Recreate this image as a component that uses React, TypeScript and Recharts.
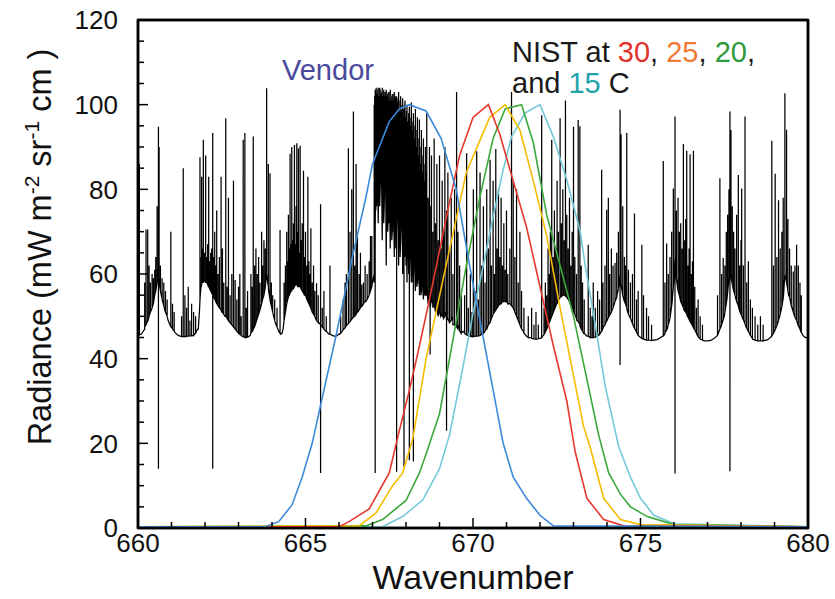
import { LineChart, Line, XAxis, YAxis, ReferenceArea } from "recharts";

const FONT = "'Liberation Sans', Arial, Helvetica, sans-serif";

type Pair = [number, number];
// [wavenumber, base, top, optional deep low]
type Spike = [number, number, number, number?];

const xTicks = [660, 661, 662, 663, 664, 665, 666, 667, 668, 669, 670, 671, 672, 673, 674, 675, 676, 677, 678, 679, 680];
const yTicks = [0, 5, 10, 15, 20, 25, 30, 35, 40, 45, 50, 55, 60, 65, 70, 75, 80, 85, 90, 95, 100, 105, 110, 115, 120];

// filter transmission curves (peak normalised to 100)
const vendorCurve: Pair[] = [
  [660, 0.3], [663.8, 0.3], [664.2, 1.5], [664.6, 5.5], [664.9, 12], [665.2, 20], [665.45, 29], [665.9, 45],
  [666.4, 64], [666.8, 78], [667.0, 86], [667.5, 96], [667.8, 99], [668.1, 100], [668.6, 98.5], [669.05, 92],
  [669.5, 80], [669.9, 62], [670.4, 41], [670.9, 20], [671.2, 12], [671.6, 7], [672.0, 3], [672.4, 0.5], [680, 0.3],
];
const nist30: Pair[] = [
  [660, 0.3], [666.0, 0.3], [666.3, 1.5], [666.9, 4.5], [667.5, 13], [667.8, 23], [668.1, 32.5], [668.4, 43],
  [668.7, 54], [669.3, 77], [669.6, 88], [670.0, 97], [670.46, 100], [670.8, 93], [671.2, 82], [671.6, 71],
  [672.0, 57], [672.4, 43], [672.8, 30], [673.05, 18], [673.4, 7], [673.9, 2], [674.5, 0.5], [680, 0.3],
];
const nist25: Pair[] = [
  [660, 0.3], [666.6, 0.5], [667.1, 3.5], [667.6, 10], [667.9, 13], [668.2, 21], [668.6, 40], [669.1, 58.5],
  [669.8, 84], [670.5, 97], [670.96, 100], [671.4, 94], [671.8, 82], [672.2, 69], [672.6, 52], [673.0, 36],
  [673.3, 24], [673.5, 19], [673.9, 7], [674.4, 2], [675.0, 0.8], [680, 0.3],
];
const nist20: Pair[] = [
  [660, 0.3], [666.8, 0.5], [667.3, 2], [668.0, 6.5], [668.4, 13], [668.6, 17.5], [669.0, 27], [669.3, 40],
  [669.8, 62], [670.2, 78], [670.6, 92], [670.96, 99], [671.45, 100], [671.8, 91], [672.2, 74], [672.6, 62],
  [673.0, 50], [673.35, 37], [673.75, 22], [674.05, 13], [674.4, 8], [674.7, 5], [675.2, 2.7], [676.0, 0.8], [680, 0.3],
];
const nist15: Pair[] = [
  [660, 0.3], [667.3, 0.3], [667.9, 2.7], [668.5, 6.6], [669.0, 14], [669.3, 22], [669.5, 30], [669.7, 38],
  [670.0, 50.7], [670.3, 61.7], [670.6, 73.5], [670.9, 84.6], [671.15, 92.4], [671.55, 98], [672.0, 100],
  [672.4, 92.4], [672.8, 82.2], [673.2, 70], [673.35, 62], [673.65, 48], [673.95, 33.4], [674.35, 19.2],
  [674.7, 12], [675.0, 7], [675.4, 3], [676.0, 1], [680, 0.3],
];

// measured spectrum: continuum per band, then the lines on it
const base660: Pair[] = [
  [660.0, 45.5], [660.1, 45.8], [660.2, 47], [660.3, 49], [660.4, 51.5], [660.48, 54], [660.55, 57], [660.6, 61],
  [660.65, 57], [660.72, 54], [660.8, 51.5], [660.9, 49], [661.0, 47.5], [661.1, 46.2], [661.2, 45.5],
  [661.35, 45.2], [661.5, 45.3], [661.65, 45.5], [661.78, 47],
];
const lines660: Spike[] = [
  [660.04, 45.6, 86], [660.2, 47.5, 58], [660.24, 48, 70.5], [660.29, 49, 70.5], [660.33, 50, 62], [660.37, 51, 58],
  [660.42, 52, 60], [660.46, 53, 59], [660.5, 55, 61], [660.53, 56, 64], [660.57, 58, 76], [660.61, 60, 94.8, 14],
  [660.63, 59, 90], [660.67, 56, 62], [660.72, 54, 59], [660.77, 52.5, 58], [660.82, 51, 56], [660.87, 50, 54],
  [660.98, 47.5, 70], [661.03, 47, 53], [661.08, 46.5, 51], [661.3, 45.2, 50], [661.35, 45.2, 85], [661.4, 45.2, 55],
  [661.45, 45.3, 52], [661.5, 45.3, 57], [661.55, 45.4, 49], [661.6, 45.4, 53], [661.66, 45.5, 51], [661.72, 46, 50],
];

const base662: Pair[] = [
  [661.8, 47], [661.84, 52], [661.88, 57], [661.92, 59], [662.0, 58.5], [662.1, 57], [662.2, 55.5], [662.3, 54],
  [662.4, 52.5], [662.5, 51], [662.6, 50], [662.7, 49], [662.8, 48], [662.9, 47], [663.0, 46], [663.1, 45.3],
  [663.2, 45], [663.3, 45.2],
];
const lines662: Spike[] = [
  [661.85, 54, 87.6], [661.89, 57, 64], [661.9, 57.5, 83], [661.93, 58, 66], [661.95, 58, 91.7], [661.98, 58.5, 65],
  [662.02, 58, 88], [662.05, 58, 64], [662.08, 57.5, 67], [662.11, 57, 83], [662.14, 56.5, 63], [662.17, 56, 65],
  [662.2, 55.5, 66], [662.23, 55, 93.3, 14], [662.26, 54.5, 64], [662.29, 54, 70], [662.32, 53.5, 62],
  [662.35, 53, 75], [662.39, 52.5, 60], [662.43, 52, 64], [662.48, 51.5, 83], [662.52, 51, 66], [662.56, 50.5, 58],
  [662.62, 50, 96.8], [662.66, 49.5, 57], [662.7, 49, 78], [662.75, 48.5, 55], [662.8, 48, 60], [662.85, 47.5, 82],
  [662.9, 47, 58.6], [662.95, 46.5, 54], [663.0, 46, 57], [663.04, 45.8, 60], [663.08, 45.5, 50],
  [663.14, 45.2, 91.7], [663.19, 45, 93.3], [663.23, 45, 52], [663.27, 45.1, 56],
];

const base663: Pair[] = [
  [663.35, 45.5], [663.42, 46.5], [663.5, 48], [663.58, 50], [663.66, 52], [663.74, 54.5], [663.8, 57], [663.84, 60],
  [663.9, 56], [663.96, 53], [664.05, 50], [664.12, 48], [664.2, 46.5], [664.26, 45.8], [664.3, 46],
];
const lines663: Spike[] = [
  [663.37, 46, 60], [663.41, 46.5, 57], [663.44, 47, 92.5], [663.48, 47.5, 62], [663.52, 48.5, 66], [663.56, 49.5, 60],
  [663.6, 50.5, 64], [663.64, 51.5, 58], [663.69, 53, 70], [663.72, 54, 62], [663.76, 55, 68], [663.8, 57, 66],
  [663.84, 60, 103.9], [663.89, 57, 86], [663.94, 54, 83.8], [663.98, 52.5, 58], [664.02, 51, 55], [664.08, 49, 54],
  [664.15, 47.5, 52], [664.24, 46, 70.4],
];

const base665: Pair[] = [
  [664.33, 47], [664.38, 50], [664.44, 53], [664.5, 55], [664.6, 57], [664.7, 57.5], [664.8, 57], [664.9, 56],
  [665.0, 55], [665.1, 53], [665.2, 51], [665.3, 49.5], [665.4, 48.5], [665.5, 47.5], [665.6, 46.5], [665.7, 45.8],
  [665.8, 45.5], [665.88, 45.3], [665.95, 45.5],
];
const lines665: Spike[] = [
  [664.36, 49, 58], [664.4, 51, 62], [664.44, 53, 70], [664.47, 54, 63], [664.49, 54.5, 74], [664.52, 55, 66],
  [664.54, 55.5, 88.4], [664.57, 56, 67], [664.59, 56, 90], [664.62, 56.5, 68], [664.64, 56.5, 72],
  [664.67, 57, 90.5], [664.7, 57.5, 67], [664.72, 57.5, 76], [664.74, 57.5, 90.9], [664.77, 57, 70],
  [664.79, 57, 89.7], [664.82, 57, 65], [664.84, 57, 90.3], [664.87, 56.5, 68], [664.9, 56, 72],
  [664.94, 55.5, 84.4], [664.97, 55, 64], [665.0, 55, 70], [665.04, 54, 62], [665.07, 53.5, 83], [665.1, 53, 63],
  [665.13, 52.5, 60], [665.16, 52, 70.8], [665.2, 51, 58], [665.24, 50.5, 62], [665.28, 50, 56],
  [665.33, 49, 57.8], [665.38, 48.5, 55], [665.45, 48, 76.5, 13], [665.5, 47.5, 52], [665.55, 47, 56],
  [665.62, 46.5, 50], [665.73, 45.8, 62],
];

const base666: Pair[] = [
  [666.0, 45.8], [666.1, 46.5], [666.2, 47.5], [666.3, 48.5], [666.4, 49.5], [666.5, 50.5], [666.6, 51.5],
  [666.7, 52.5], [666.8, 53.5], [666.9, 55], [667.0, 58],
];
const lines666: Spike[] = [
  [666.05, 46, 50], [666.12, 46.8, 54], [666.18, 47.3, 58], [666.22, 47.8, 60], [666.28, 48.3, 89.7],
  [666.33, 48.8, 70], [666.38, 49.3, 80], [666.43, 49.8, 98.4], [666.47, 50, 62], [666.51, 50.5, 86],
  [666.55, 51, 69], [666.6, 51.5, 60], [666.64, 52, 65], [666.68, 52.5, 57.5], [666.73, 53, 58], [666.78, 53.5, 62],
  [666.84, 54, 60], [666.9, 55, 63], [666.94, 56, 69], [666.98, 57, 69],
];

const base668: Pair[] = [
  [667.05, 60], [667.1, 75], [667.2, 80], [667.3, 78], [667.4, 75], [667.5, 72], [667.6, 70], [667.7, 68],
  [667.8, 66], [667.9, 64], [668.0, 62], [668.2, 60], [668.4, 57], [668.6, 55], [668.8, 53], [669.0, 52],
  [669.2, 51], [669.4, 50], [669.6, 48], [669.7, 46.5],
];
const lines668: Spike[] = [
  [667.05, 58, 100], [667.08, 70, 103.5, 13], [667.11, 80, 104], [667.14, 85, 102], [667.17, 72, 104],
  [667.2, 88, 101], [667.23, 80, 103.5], [667.26, 86, 102.5], [667.29, 68, 104], [667.32, 84, 101.5],
  [667.35, 76, 103], [667.38, 88, 102], [667.41, 62, 103.5], [667.44, 84, 101], [667.47, 74, 103],
  [667.5, 86, 100], [667.53, 66, 103.5], [667.56, 82, 101], [667.59, 70, 102.5], [667.62, 84, 100],
  [667.65, 64, 103], [667.68, 80, 101.5], [667.72, 70, 102, 13.3], [667.75, 82, 100], [667.78, 62, 103],
  [667.81, 78, 99], [667.84, 68, 102], [667.87, 80, 98], [667.9, 60, 101.5], [667.94, 76, 99, 14.5],
  [667.97, 66, 101], [668.0, 74, 97], [668.03, 58, 100], [668.06, 72, 96], [668.1, 62, 99.5, 16],
  [668.13, 70, 95], [668.16, 58, 100.5], [668.19, 68, 94], [668.22, 60, 98, 15.7], [668.25, 66, 92],
  [668.28, 56, 99], [668.31, 64, 90], [668.34, 58, 97], [668.37, 63, 88], [668.4, 55, 96.5], [668.43, 62, 86],
  [668.46, 56, 94], [668.49, 60, 84], [668.52, 54, 92], [668.55, 59, 80], [668.58, 55, 90], [668.62, 57, 98],
  [668.66, 53, 78], [668.7, 55, 90], [668.72, 52, 76, 41], [668.76, 54, 88], [668.8, 52, 70], [668.84, 53, 92],
  [668.88, 51, 72], [668.92, 52, 86], [668.96, 50, 68], [669.0, 51, 88], [669.04, 50, 66], [669.08, 50.5, 82],
  [669.12, 49.5, 70], [669.16, 50, 90], [669.21, 49, 75, 23], [669.25, 49.5, 84], [669.3, 48.5, 66],
  [669.35, 49, 78], [669.4, 48, 60], [669.45, 48, 80], [669.51, 47.5, 103], [669.55, 47, 70], [669.6, 46.5, 62],
  [669.65, 46, 55],
];
// the unresolved core of the band, between the lines above
const core668: Spike[] = [
  [667.065, 78, 102], [667.095, 84, 103], [667.125, 76, 102.5], [667.155, 88, 103.5], [667.185, 82, 102],
  [667.215, 76, 104], [667.245, 90, 101.5], [667.275, 80, 103], [667.305, 86, 102], [667.335, 72, 103.5],
  [667.365, 85, 101], [667.395, 78, 103], [667.425, 86, 102], [667.455, 70, 102.5], [667.485, 84, 101],
  [667.515, 76, 103], [667.545, 85, 100.5], [667.575, 68, 102], [667.605, 80, 101], [667.635, 74, 102.5],
  [667.665, 84, 100], [667.695, 66, 102], [667.735, 78, 100.5], [667.765, 72, 101.5], [667.795, 80, 99],
  [667.825, 64, 101], [667.855, 76, 98.5], [667.885, 70, 100], [667.925, 78, 97], [667.955, 64, 100],
  [667.985, 72, 96], [668.015, 66, 98.5], [668.045, 74, 95], [668.08, 60, 98], [668.115, 70, 94],
  [668.145, 62, 97], [668.175, 68, 93], [668.205, 58, 96], [668.235, 66, 91], [668.265, 60, 95],
  [668.295, 64, 89], [668.325, 57, 94], [668.355, 62, 87], [668.385, 58, 92], [668.415, 60, 85],
  [668.445, 55, 90], [668.475, 60, 83], [668.505, 56, 88], [668.535, 58, 82], [668.565, 55, 86], [668.6, 57, 84],
];

const base670: Pair[] = [
  [669.8, 45.6], [669.9, 45.3], [670.0, 45.2], [670.1, 45.3], [670.2, 45.5], [670.3, 46], [670.4, 47],
  [670.5, 48.5], [670.6, 50.5], [670.7, 52], [670.8, 53], [670.9, 53.5], [671.0, 53.5], [671.1, 53], [671.2, 52],
  [671.3, 50], [671.4, 48], [671.5, 46.5], [671.6, 45.3],
];
const lines670: Spike[] = [
  [669.75, 46, 55], [669.81, 45.6, 88.5], [669.86, 45.4, 52], [669.92, 45.3, 60], [669.97, 45.2, 51],
  [670.01, 45.2, 80], [670.06, 45.3, 56], [670.11, 45.3, 89], [670.16, 45.4, 54], [670.21, 45.5, 84],
  [670.26, 45.8, 62], [670.31, 46, 76], [670.36, 46.5, 58], [670.41, 47, 80], [670.46, 48, 66], [670.51, 48.5, 87],
  [670.55, 49.5, 62], [670.6, 50.5, 82], [670.64, 51, 60], [670.68, 51.5, 89.5], [670.72, 52, 66],
  [670.76, 52.5, 80], [670.8, 53, 64], [670.84, 53, 78], [670.88, 53.5, 62], [670.92, 53.5, 72],
  [670.96, 53.5, 61], [671.0, 53.5, 75], [671.04, 53, 60], [671.1, 53, 66], [671.15, 52.5, 103], [671.2, 52, 82],
  [671.25, 51, 64], [671.3, 50, 80], [671.35, 49, 58], [671.4, 48, 70], [671.45, 47, 56], [671.52, 46, 52],
];

const base672: Pair[] = [
  [671.7, 45], [671.8, 44.7], [671.9, 44.6], [672.0, 44.8], [672.1, 45.5], [672.2, 47], [672.3, 49], [672.4, 51],
  [672.5, 53], [672.6, 54.5], [672.7, 55], [672.8, 54.5], [672.9, 53], [673.0, 51], [673.1, 49], [673.2, 47.5],
  [673.3, 46], [673.4, 45.3],
];
const lines672: Spike[] = [
  [671.65, 45, 50], [671.75, 44.8, 52], [671.82, 44.7, 48], [671.88, 44.6, 51], [671.95, 44.7, 48],
  [672.05, 45, 97.5], [672.12, 45.7, 52], [672.16, 46.3, 58], [672.2, 47, 55], [672.24, 47.8, 66],
  [672.28, 48.6, 60], [672.31, 49.2, 70], [672.35, 50, 91.7], [672.39, 50.8, 64], [672.43, 51.6, 75],
  [672.47, 52.4, 66], [672.51, 53, 82], [672.55, 53.8, 70], [672.6, 54.5, 96.8], [672.64, 54.7, 72],
  [672.68, 55, 80], [672.72, 55, 68], [672.76, 54.8, 101], [672.8, 54.5, 74], [672.84, 54, 66], [672.88, 53.5, 78],
  [672.92, 53, 62], [672.96, 52.2, 70], [673.0, 51, 94.8], [673.04, 50.5, 64], [673.09, 49.5, 60],
  [673.14, 48.8, 96.4], [673.19, 48, 94.9], [673.23, 47, 62], [673.27, 46.5, 58], [673.32, 46, 54],
];

const base674: Pair[] = [
  [673.5, 45], [673.6, 45], [673.7, 45.3], [673.8, 46], [673.9, 47.5], [674.0, 49], [674.1, 50.5], [674.2, 52.5],
  [674.3, 55], [674.36, 58], [674.39, 60], [674.43, 57], [674.5, 54], [674.6, 51.5], [674.7, 49.5], [674.8, 47.5],
  [674.9, 46], [675.0, 45], [675.15, 44.5], [675.3, 44.3], [675.5, 44.5], [675.6, 45],
];
const lines674: Spike[] = [
  [673.44, 45.3, 66.9], [673.5, 45, 52], [673.55, 45, 50], [673.59, 45, 58], [673.65, 45.1, 52], [673.72, 45.4, 56],
  [673.78, 45.8, 54], [673.84, 46.5, 84.6], [673.88, 47.2, 58], [673.94, 48, 62], [673.99, 49, 75.2],
  [674.04, 49.7, 78], [674.08, 50.3, 60], [674.13, 51, 66], [674.18, 52, 62], [674.24, 53.5, 62.6],
  [674.29, 54.5, 65], [674.34, 56.5, 70], [674.39, 60, 98.8, 38.5], [674.42, 58, 93], [674.47, 55, 76],
  [674.52, 53.5, 64], [674.55, 53, 62], [674.59, 52, 93.3], [674.64, 50.5, 61], [674.7, 49.5, 58],
  [674.76, 48.3, 60], [674.82, 47.2, 74.3], [674.88, 46.3, 54], [674.93, 45.5, 56], [675.04, 44.8, 66.9],
  [675.09, 44.6, 55], [675.18, 44.4, 52], [675.24, 44.4, 50], [675.33, 44.3, 48],
];

const base676: Pair[] = [
  [675.7, 45.5], [675.8, 47], [675.88, 49.5], [675.94, 53], [675.99, 58], [676.03, 64], [676.07, 59],
  [676.12, 56], [676.2, 53.5], [676.3, 51.5], [676.4, 50], [676.5, 48.5], [676.6, 47], [676.7, 45.5],
  [676.8, 44.6], [676.9, 44.2], [677.0, 44.2], [677.1, 44.3], [677.2, 44.8],
];
const lines676: Spike[] = [
  [675.68, 45.4, 86.7], [675.73, 46, 58], [675.78, 46.8, 67.2], [675.83, 48, 60], [675.88, 49.5, 64],
  [675.93, 52.5, 70], [675.98, 57, 80.2], [676.03, 64, 97.2, 12.9], [676.07, 59, 75], [676.12, 56, 78],
  [676.16, 55, 70], [676.2, 53.5, 72], [676.24, 52.8, 66], [676.28, 52, 90.7], [676.32, 51.3, 68],
  [676.35, 51, 73], [676.38, 50.5, 89.1], [676.42, 49.8, 62], [676.45, 49.3, 66], [676.48, 48.8, 88.3],
  [676.52, 48.2, 60], [676.55, 47.8, 63], [676.58, 47.3, 89.1], [676.62, 46.8, 57], [676.67, 46, 52],
  [676.72, 45.2, 54], [676.78, 44.7, 50], [676.85, 44.4, 48],
];

const base678: Pair[] = [
  [677.3, 45.5], [677.4, 47.5], [677.5, 50], [677.58, 54], [677.63, 58], [677.67, 64], [677.71, 59],
  [677.78, 56], [677.85, 54], [677.95, 51.5], [678.05, 49.5], [678.15, 47.5], [678.25, 46], [678.35, 44.6],
  [678.5, 44.2], [678.65, 44.2], [678.8, 44.5], [678.9, 45.2],
];
const lines678: Spike[] = [
  [677.3, 45.5, 55], [677.37, 47, 82.6], [677.42, 48, 60], [677.47, 49.2, 63.8], [677.52, 51, 62],
  [677.56, 53, 70], [677.6, 55.5, 74], [677.64, 59, 80], [677.67, 64, 98.4, 13.4], [677.7, 60, 94],
  [677.74, 57.5, 76], [677.78, 56, 70], [677.82, 55, 66], [677.87, 53.5, 74], [677.92, 52.5, 83.4],
  [677.96, 51.3, 62], [678.0, 50.5, 68], [678.02, 50.2, 80.2], [678.07, 49.2, 62], [678.12, 48.2, 97.2],
  [678.17, 47.2, 58], [678.22, 46.4, 63], [678.28, 45.5, 54], [678.34, 44.8, 52], [678.42, 44.4, 50],
  [678.5, 44.2, 48], [678.58, 44.2, 50], [678.66, 44.2, 48],
];

const base679: Pair[] = [
  [679.0, 46.5], [679.1, 48.5], [679.2, 51.5], [679.27, 55], [679.31, 60], [679.36, 58], [679.42, 55],
  [679.5, 52.5], [679.6, 50], [679.7, 48], [679.78, 46.5], [679.85, 45.5], [679.92, 45], [680.0, 45],
];
const lines679: Spike[] = [
  [678.92, 45.4, 91.5], [678.97, 46, 62], [679.02, 46.8, 83.7], [679.07, 47.8, 64], [679.12, 49, 77.4],
  [679.17, 50.5, 66], [679.22, 52.3, 70], [679.26, 54.3, 78], [679.31, 60, 102.7], [679.36, 58, 94.1],
  [679.4, 56, 73], [679.45, 54.5, 66], [679.5, 52.5, 62], [679.56, 51, 60.6], [679.61, 49.8, 62],
  [679.66, 49, 66.9], [679.71, 47.8, 62], [679.76, 47, 58], [679.8, 46.2, 55],
];

const spectrumBase: Pair[] = [
  ...base660, ...base662, ...base663, ...base665, ...base666, ...base668,
  ...base670, ...base672, ...base674, ...base676, ...base678, ...base679,
];
const spectrumLines: Spike[] = [
  ...lines660, ...lines662, ...lines663, ...lines665, ...lines666, ...lines668, ...core668,
  ...lines670, ...lines672, ...lines674, ...lines676, ...lines678, ...lines679,
];

type Pt = { x: number; y: number };

function toPoints(pairs: Pair[]): Pt[] {
  return pairs.map(([x, y]) => ({ x, y }));
}

function buildSpectrum(): Pt[] {
  const pts: Pt[] = toPoints(spectrumBase);
  spectrumLines.forEach(([x, base, top, low]) => {
    pts.push({ x, y: base });
    pts.push({ x: x + 0.0001, y: top });
    if (low !== undefined) pts.push({ x: x + 0.0002, y: low });
    pts.push({ x: x + 0.0003, y: base });
  });
  return pts.sort((a, b) => a.x - b.x);
}

const spectrum = buildSpectrum();

const TICK_COLOR = "#111";

function BottomTick(props: any) {
  const { x, y, payload } = props;
  const major = payload.value % 5 === 0;
  return (
    <g>
      <path d={`M${x},${y}V${y - (major ? 10 : 6)}`} stroke="#000" strokeWidth={1.5} fill="none" />
      {major && (
        <text x={x} y={y + 24} textAnchor="middle" fontSize={26} fontFamily={FONT} fill={TICK_COLOR}>
          {payload.value}
        </text>
      )}
    </g>
  );
}

function TopTick(props: any) {
  const { x, y, payload } = props;
  const major = payload.value % 5 === 0;
  return <path d={`M${x},${y}V${y + (major ? 10 : 6)}`} stroke="#000" strokeWidth={1.5} fill="none" />;
}

function LeftTick(props: any) {
  const { x, y, payload } = props;
  const major = payload.value % 20 === 0;
  return (
    <g>
      <path d={`M${x},${y}H${x + (major ? 10 : 6)}`} stroke="#000" strokeWidth={1.5} fill="none" />
      {major && (
        <text x={x - 20} y={y} dy="0.36em" textAnchor="end" fontSize={26} fontFamily={FONT} fill={TICK_COLOR}>
          {payload.value}
        </text>
      )}
    </g>
  );
}

function RightTick(props: any) {
  const { x, y, payload } = props;
  const major = payload.value % 20 === 0;
  return <path d={`M${x},${y}H${x - (major ? 10 : 6)}`} stroke="#000" strokeWidth={1.5} fill="none" />;
}

const frame = { stroke: "#000", strokeWidth: 2.5 };

export default function App() {
  return (
    <div style={{ position: "absolute", left: 0, top: 0, width: 835, height: 599, background: "#fff" }}>
      <LineChart width={835} height={599} margin={{ top: 19, right: 26, bottom: 11, left: 0 }}>
        <XAxis
          dataKey="x"
          type="number"
          domain={[660, 680]}
          ticks={xTicks}
          interval={0}
          height={60}
          tickSize={0}
          tickMargin={0}
          tickLine={false}
          tick={<BottomTick />}
          axisLine={frame}
          allowDataOverflow
        />
        <XAxis
          xAxisId="top"
          orientation="top"
          type="number"
          domain={[660, 680]}
          ticks={xTicks}
          interval={0}
          height={1}
          tickSize={0}
          tickMargin={0}
          tickLine={false}
          tick={<TopTick />}
          axisLine={frame}
        />
        <YAxis
          type="number"
          domain={[0, 120]}
          ticks={yTicks}
          interval={0}
          width={138}
          tickSize={0}
          tickMargin={0}
          tickLine={false}
          tick={<LeftTick />}
          axisLine={frame}
          allowDataOverflow
        />
        <YAxis
          yAxisId="right"
          orientation="right"
          type="number"
          domain={[0, 120]}
          ticks={yTicks}
          interval={0}
          width={1}
          tickSize={0}
          tickMargin={0}
          tickLine={false}
          tick={<RightTick />}
          axisLine={frame}
        />
        <Line data={spectrum} dataKey="y" stroke="#000" strokeWidth={1.25} dot={false} isAnimationActive={false} />
        <Line data={toPoints(nist15)} dataKey="y" stroke="#74c9d9" strokeWidth={1.6} dot={false} isAnimationActive={false} />
        <Line data={toPoints(nist20)} dataKey="y" stroke="#3aa83a" strokeWidth={1.6} dot={false} isAnimationActive={false} />
        <Line data={toPoints(nist25)} dataKey="y" stroke="#f5bd00" strokeWidth={1.6} dot={false} isAnimationActive={false} />
        <Line data={toPoints(nist30)} dataKey="y" stroke="#e8382e" strokeWidth={1.6} dot={false} isAnimationActive={false} />
        <Line data={toPoints(vendorCurve)} dataKey="y" stroke="#3b8ad9" strokeWidth={1.6} dot={false} isAnimationActive={false} />
        <ReferenceArea x1={660} x2={680} y1={0} y2={120} fill="none" stroke="#000" strokeWidth={2.5} ifOverflow="visible" />
      </LineChart>
      <svg
        width={835}
        height={599}
        style={{ position: "absolute", left: 0, top: 0, pointerEvents: "none" }}
        fontFamily={FONT}
      >
        <text x={473} y={589} textAnchor="middle" fontSize={34} fill="#111">
          Wavenumber
        </text>
        <text transform="translate(51,247) rotate(-90)" textAnchor="middle" fontSize={32.5} fill="#111">
          Radiance (mW m
          <tspan dy={-12} fontSize={21}>-2</tspan>
          <tspan dy={12}>{" sr"}</tspan>
          <tspan dy={-12} fontSize={21}>-1</tspan>
          <tspan dy={12}>{" cm )"}</tspan>
        </text>
        <text x={282} y={80} fontSize={29} fill="#4a4a9c">
          Vendor
        </text>
        <text x={512} y={62} fontSize={29} fill="#1a1a1a">
          NIST at <tspan fill="#e2332a">30</tspan>
          <tspan>{", "}</tspan>
          <tspan fill="#ef7a34">25</tspan>
          <tspan>{", "}</tspan>
          <tspan fill="#2e9a3c">20</tspan>
          <tspan>,</tspan>
        </text>
        <text x={512} y={93} fontSize={29} fill="#1a1a1a">
          and <tspan fill="#1fa3ac">15</tspan>
          <tspan>{" C"}</tspan>
        </text>
      </svg>
    </div>
  );
}
